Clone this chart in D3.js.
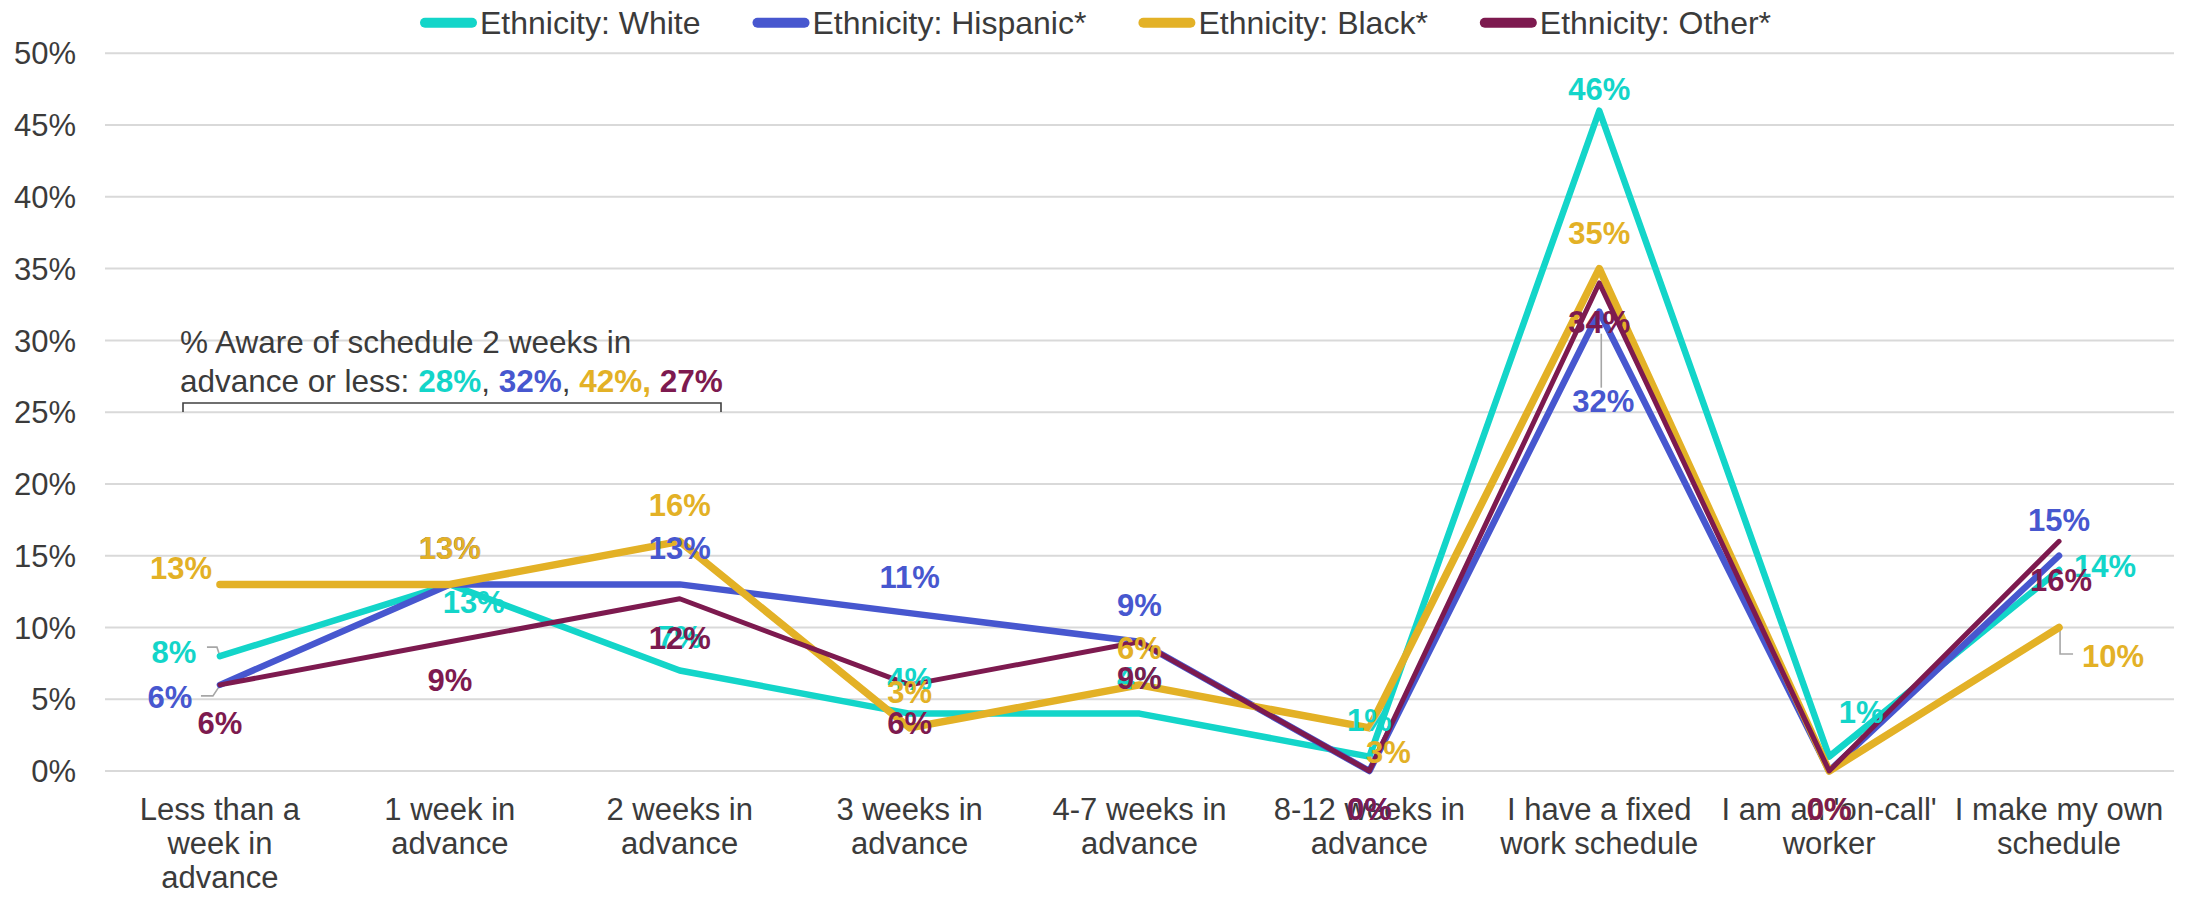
<!DOCTYPE html>
<html><head><meta charset="utf-8">
<script src="https://cdn.jsdelivr.net/npm/d3@7"></script>
<style>
body{margin:0;background:#fff;}
text{font-family:"Liberation Sans",Arial,Helvetica,sans-serif;}
</style>
</head><body>
<svg id="chart" width="2197" height="897"></svg>
<script>
// ---------- data ----------
const categories = ["Less than a week in advance","1 week in advance","2 weeks in advance","3 weeks in advance","4-7 weeks in advance","8-12 weeks in advance","I have a fixed work schedule","I am an 'on-call' worker","I make my own schedule"];
const seriesNames = ["Ethnicity: White","Ethnicity: Hispanic*","Ethnicity: Black*","Ethnicity: Other*"];
const white    = [8,13,7,4,4,1,46,1,14];
const hispanic = [6,13,13,11,9,0,32,0,15];
const black    = [13,13,16,3,6,3,35,0,10];
const other    = [6,9,12,6,9,0,34,0,16];
const yTicks = [0,5,10,15,20,25,30,35,40,45,50];
const awareText1 = "% Aware of schedule 2 weeks in";
const awareText2 = "advance or less: ";
const awarePcts = [28,32,42,27];

// ---------- style / layout ----------
const colors = ["#13D5C9","#4757CF","#E3B126","#7D1A4F"];
const widths = [6.5,6.5,7.5,5];
const textColor = "#3b3b3b";
const plot = {left:105, right:2174, top:53.3, bottom:771};
// label offsets (dx,dy from point to label centre), per series per category
const labelOffsets = [
  [[-46,-4],[24,17.5],[0,-34],[0,-35],[0,-36],[0,-36.6],[0,-22],[32,-45],[46,-4]],
  [[-50,12],[0,-36.5],[0,-36.5],[0,-36],[0,-37],[0,38],[4,89],[0,38],[0,-36]],
  [[-39,-17],[0,-36.5],[0,-36],[0,-36],[0,-37],[19,24],[0,-35.5],[0,38],[54,28]],
  [[0,37.5],[0,38],[0,38.7],[0,38],[0,36],[0,38],[0,38.7],[0,38],[2,39]]
];
// leader lines relative to point: [series, category, points]
const leaders = [
  [0,0,[[-13,-9],[-3,-9],[0,0]]],
  [1,0,[[-19,11],[-7,11],[-1,2]]],
  [1,6,[[2,76],[2,22]]],
  [0,7,[[2,-2],[33,-22]]],
  [2,8,[[1,0],[1,26.5],[14,26.5]]]
];

const seriesValues = [white, hispanic, black, other];

const svg = d3.select("#chart");
const x = d3.scaleBand().domain(categories).range([plot.left, plot.right]).padding(0);
const y = d3.scaleLinear().domain([0,50]).range([plot.bottom, plot.top]);
const cx = c => x(c) + x.bandwidth()/2;

// gridlines
svg.append("g").selectAll("line").data(yTicks).join("line")
  .attr("x1", plot.left).attr("x2", plot.right)
  .attr("y1", d=>y(d)).attr("y2", d=>y(d))
  .attr("stroke", "#d9d9d9").attr("stroke-width", 2);

// y tick labels
svg.append("g").selectAll("text").data(yTicks).join("text")
  .attr("x", 76).attr("y", d=>y(d)).attr("dy","0.36em")
  .attr("text-anchor","end").attr("font-size",31).attr("fill",textColor)
  .text(d=>d+"%");

// category labels (wrapped)
const catG = svg.append("g");
categories.forEach(c=>{
  const words = c.split(" ");
  const t = catG.append("text").attr("text-anchor","middle").attr("font-size",31).attr("fill",textColor);
  let lines = [], cur = [];
  const probe = catG.append("text").attr("font-size",31);
  words.forEach(w=>{
    const test = cur.concat([w]).join(" ");
    probe.text(test);
    if (probe.node().getComputedTextLength() > 226 && cur.length){ lines.push(cur.join(" ")); cur=[w]; }
    else cur.push(w);
  });
  lines.push(cur.join(" "));
  probe.remove();
  lines.forEach((l,i)=>{
    t.append("tspan").attr("x", cx(c)).attr("y", plot.bottom + 49 + i*34).text(l);
  });
});

// leader lines
leaders.forEach(([s,ci,pts])=>{
  const px = cx(categories[ci]), py = y(seriesValues[s][ci]);
  svg.append("polyline")
    .attr("points", pts.map(p=>[px+p[0], py+p[1]].join(",")).join(" "))
    .attr("fill","none").attr("stroke","#a6a6a6").attr("stroke-width",1.6);
});

// lines
const line = d3.line().x((d,i)=>cx(categories[i])).y(d=>y(d));
seriesValues.forEach((vals,s)=>{
  svg.append("path").datum(vals).attr("d", line)
    .attr("fill","none").attr("stroke", colors[s]).attr("stroke-width", widths[s])
    .attr("stroke-linejoin","round").attr("stroke-linecap","round");
});

// data labels
seriesValues.forEach((vals,s)=>{
  svg.append("g").selectAll("text").data(vals).join("text")
    .attr("x", (d,i)=>cx(categories[i]) + labelOffsets[s][i][0])
    .attr("y", (d,i)=>y(d) + labelOffsets[s][i][1])
    .attr("dy","0.36em").attr("text-anchor","middle")
    .attr("font-size",31).attr("font-weight","bold").attr("fill",colors[s])
    .text(d=>d+"%");
});

// legend
const leg = svg.append("g");
let lx = 420;
const ly = 22.7;
seriesNames.forEach((n,s)=>{
  leg.append("line").attr("x1", lx+5).attr("x2", lx+52).attr("y1", ly).attr("y2", ly)
    .attr("stroke", colors[s]).attr("stroke-width", 10).attr("stroke-linecap","round");
  const t = leg.append("text").attr("x", lx+60).attr("y", ly).attr("dy","0.36em")
    .attr("font-size",32).attr("fill",textColor).text(n);
  lx = lx + 60 + t.node().getComputedTextLength() + 52;
});

// annotation
const ann = svg.append("g");
ann.append("text").attr("x",180).attr("y",353).attr("font-size",31.5).attr("fill",textColor).text(awareText1);
const t2 = ann.append("text").attr("x",180).attr("y",392).attr("font-size",31.5).attr("fill",textColor);
t2.append("tspan").text(awareText2);
awarePcts.forEach((p,i)=>{
  t2.append("tspan").attr("font-weight","bold").attr("fill",colors[i]).text(p+"%");
  if (i<awarePcts.length-1){
    if (i===2) t2.append("tspan").attr("font-weight","bold").attr("fill",colors[i]).text(", ");
    else t2.append("tspan").text(", ");
  }
});
ann.append("path").attr("d","M183,412 V403 H721 V412").attr("fill","none")
  .attr("stroke","#404040").attr("stroke-width",1.6);
</script>
</body></html>
